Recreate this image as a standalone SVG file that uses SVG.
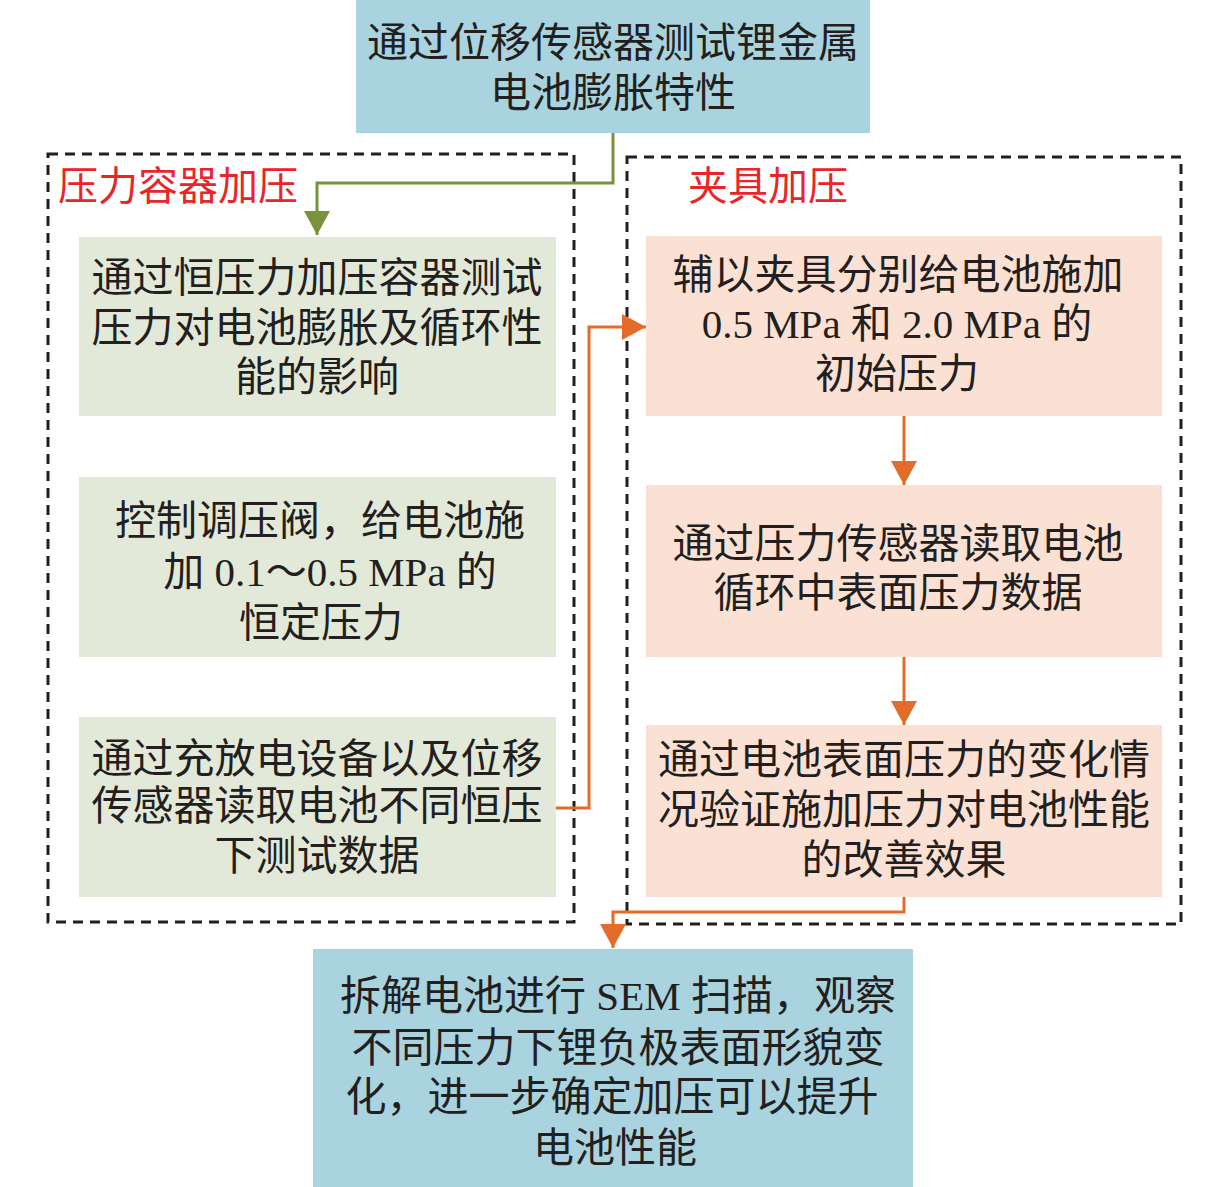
<svg xmlns="http://www.w3.org/2000/svg" width="1228" height="1187" viewBox="0 0 1228 1187">
<style>
.t{font-family:"Liberation Serif","Noto Sans CJK SC",serif;font-size:41px;fill:#231f20;text-anchor:middle}
.lbl{font-family:"Liberation Serif","Noto Sans CJK SC",serif;font-size:40px;fill:#e8262a}
.blue{fill:#a9d3de}
.green{fill:#e3e9d8}
.orange{fill:#fbe1d4}
.dash{fill:none;stroke:#231f20;stroke-width:3;stroke-dasharray:10 7}
.cg{fill:none;stroke:#77933c;stroke-width:3}
.co{fill:none;stroke:#e36c2a;stroke-width:3}
</style>
<defs>
<marker id="ag" viewBox="0 0 24 26" refX="24" refY="13" markerWidth="24" markerHeight="26" markerUnits="userSpaceOnUse" orient="auto"><path d="M0,0 L24,13 L0,26 z" fill="#77933c"/></marker>
<marker id="ao" viewBox="0 0 24 26" refX="24" refY="13" markerWidth="24" markerHeight="26" markerUnits="userSpaceOnUse" orient="auto"><path d="M0,0 L24,13 L0,26 z" fill="#e36c2a"/></marker>
</defs>
<rect width="1228" height="1187" fill="#ffffff"/>
<g id="group-left">
<rect class="dash" x="48" y="154" width="526" height="768"/>
<text class="lbl" x="58" y="200">压力容器加压</text>
</g>
<g id="group-right">
<rect class="dash" x="627" y="157" width="554" height="767"/>
<text class="lbl" x="688" y="200">夹具加压</text>
</g>
<g id="n-top">
<rect class="blue" x="356" y="0" width="514" height="133"/>
<text class="t" x="613" y="57">通过位移传感器测试锂金属</text>
<text class="t" x="613" y="107">电池膨胀特性</text>
</g>
<g id="n-g1">
<rect class="green" x="79" y="237" width="477" height="179"/>
<text class="t" x="317" y="292">通过恒压力加压容器测试</text>
<text class="t" x="317" y="342">压力对电池膨胀及循环性</text>
<text class="t" x="317" y="391">能的影响</text>
</g>
<g id="n-g2">
<rect class="green" x="79" y="477" width="477" height="180"/>
<text class="t" x="320" y="535">控制调压阀，给电池施</text>
<text class="t" x="330" y="586">加 0.1～0.5 MPa 的</text>
<text class="t" x="321" y="637">恒定压力</text>
</g>
<g id="n-g3">
<rect class="green" x="79" y="717" width="477" height="180"/>
<text class="t" x="317" y="773">通过充放电设备以及位移</text>
<text class="t" x="317" y="820">传感器读取电池不同恒压</text>
<text class="t" x="317" y="870">下测试数据</text>
</g>
<g id="n-o1">
<rect class="orange" x="646" y="236" width="516" height="180"/>
<text class="t" x="898" y="289">辅以夹具分别给电池施加</text>
<text class="t" x="897" y="338">0.5 MPa 和 2.0 MPa 的</text>
<text class="t" x="897" y="388">初始压力</text>
</g>
<g id="n-o2">
<rect class="orange" x="646" y="485" width="516" height="172"/>
<text class="t" x="898" y="558">通过压力传感器读取电池</text>
<text class="t" x="898" y="607">循环中表面压力数据</text>
</g>
<g id="n-o3">
<rect class="orange" x="646" y="725" width="516" height="172"/>
<text class="t" x="904" y="774">通过电池表面压力的变化情</text>
<text class="t" x="904" y="824">况验证施加压力对电池性能</text>
<text class="t" x="904" y="874">的改善效果</text>
</g>
<g id="n-bottom">
<rect class="blue" x="313" y="949" width="600" height="238"/>
<text class="t" x="618" y="1010">拆解电池进行 SEM 扫描，观察</text>
<text class="t" x="618" y="1062">不同压力下锂负极表面形貌变</text>
<text class="t" x="612" y="1111">化，进一步确定加压可以提升</text>
<text class="t" x="615" y="1162">电池性能</text>
</g>
<g id="connectors">
<path class="cg" d="M613,133 V183 H317 V235" marker-end="url(#ag)"/>
<path class="co" d="M556,808 H589 V327 H646" marker-end="url(#ao)"/>
<path class="co" d="M904,416 V485" marker-end="url(#ao)"/>
<path class="co" d="M904,657 V725" marker-end="url(#ao)"/>
<path class="co" d="M904,897 V912 H613 V948" marker-end="url(#ao)"/>
</g>
</svg>
